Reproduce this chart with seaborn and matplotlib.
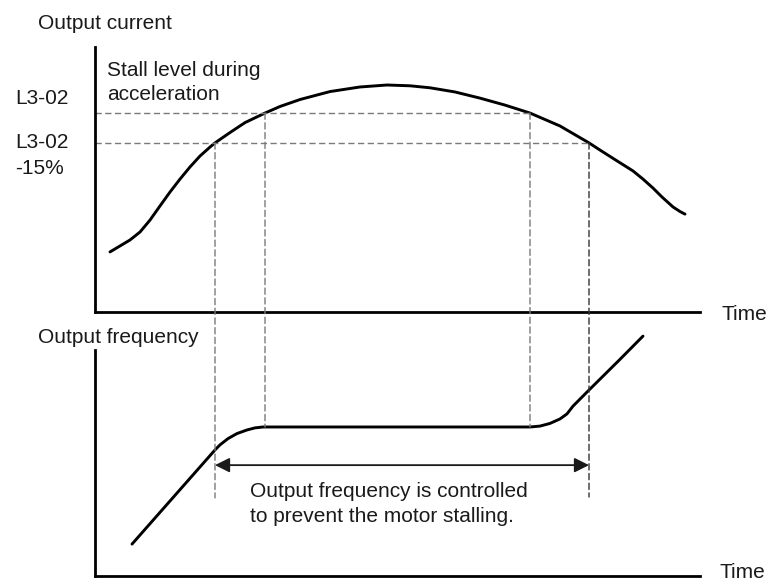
import numpy as np
import pandas as pd
import seaborn as sns
import matplotlib
matplotlib.use("Agg")
import matplotlib.pyplot as plt
from matplotlib.patches import ConnectionPatch

# ---- data -------------------------------------------------------------
# Output current (% of the L3-02 stall level) against time
current_t = [15, 25, 35, 45, 55, 65, 75, 85, 95, 105, 115, 120, 135, 150, 170,
             185, 205, 235, 265, 292, 315, 335, 360, 385, 410, 435, 465, 494,
             505, 520, 538, 548, 558, 567, 578, 585, 590]
current_v = [30.2, 33.2, 36.2, 40.2, 46.2, 53.3, 60.3, 66.8, 72.9, 78.4, 82.9,
             85.0, 90.2, 95.2, 100.0, 103.3, 106.8, 110.8, 113.1, 114.1, 113.7,
             112.7, 110.6, 107.5, 104.0, 100.0, 93.5, 85.0, 81.4, 76.6, 70.9,
             66.8, 62.3, 57.8, 52.8, 50.5, 49.2]

# Output frequency against time
freq_t = [37, 120, 125, 133, 142, 152, 160, 168, 435, 445, 455, 465, 472, 478,
          494, 525, 548]
freq_v = [10.7, 42.3, 44.0, 46.1, 47.8, 49.0, 49.7, 50.0, 50.0, 50.3, 51.2,
          52.7, 54.4, 57.0, 62.4, 72.7, 80.5]

stall_level = 100.0          # L3-02
reduced_level = 85.0         # L3-02 -15%
flat_freq = 50.0
t_rise_low, t_rise_high = 120, 170
t_fall_high, t_fall_low = 435, 494

level_labels = ["L3-02", "L3-02\n-15%"]

# ---- figure -----------------------------------------------------------
sns.set_theme(style="white")
plt.rcParams["font.family"] = ["Liberation Sans", "DejaVu Sans"]

W, H = 767, 582
fig = plt.figure(figsize=(W / 100, H / 100), dpi=100)


def fx(px):
    return px / W


def fy(py):
    return 1 - py / H


ax_i = fig.add_axes([fx(95), fy(312), 605 / W, (312 - 47) / H])
ax_f = fig.add_axes([fx(95), fy(576), 605 / W, (576 - 320) / H])

df_i = pd.DataFrame({"t": current_t, "v": current_v})
df_f = pd.DataFrame({"t": freq_t, "v": freq_v})

line_kw = dict(color="black", lw=2.1, sort=False, estimator=None,
               solid_joinstyle="round", solid_capstyle="round")
sns.lineplot(data=df_i, x="t", y="v", ax=ax_i, **line_kw)
sns.lineplot(data=df_f, x="t", y="v", ax=ax_f, **line_kw)

ax_i.set_xlim(0, 605)
ax_i.set_ylim(0, 133.2)
ax_f.set_xlim(0, 605)
ax_f.set_ylim(0, 85.9)

for ax in (ax_i, ax_f):
    ax.set_xticks([])
    ax.set_yticks([])
    ax.set_xlabel("")
    ax.set_ylabel("")
    ax.patch.set_alpha(0)
    for side in ("top", "right"):
        ax.spines[side].set_visible(False)
    for side in ("left", "bottom"):
        ax.spines[side].set_color("black")
        ax.spines[side].set_linewidth(2.0)
ax_f.spines["left"].set_bounds(0, 75.8)

dash_kw = dict(color="#7a7a7a", lw=1.0, ls=(0, (4.5, 2.5)))

# horizontal guide lines at the two current levels
ax_i.plot([0, t_fall_high], [stall_level, stall_level], **dash_kw)
ax_i.plot([0, t_fall_low], [reduced_level, reduced_level], **dash_kw)

# vertical guides running from the current curve down into the frequency panel
guides = [(t_rise_low, reduced_level, 26.2, "#7a7a7a"),
          (t_rise_high, stall_level, flat_freq, "#7a7a7a"),
          (t_fall_high, stall_level, flat_freq, "#7a7a7a"),
          (t_fall_low, reduced_level, 26.5, "#333333")]
for t, v_top, v_bot, col in guides:
    cp = ConnectionPatch(xyA=(t, v_top), coordsA=ax_i.transData,
                         xyB=(t, v_bot), coordsB=ax_f.transData,
                         color=col, lw=1.0, ls=(0, (4.5, 2.5)))
    fig.add_artist(cp)

# double arrow spanning the controlled interval
ax_f.annotate("", xy=(t_rise_low, 37.2), xytext=(t_fall_low, 37.2),
              arrowprops=dict(arrowstyle="<|-|>", color="#1a1a1a", lw=1.3,
                              mutation_scale=22, shrinkA=0, shrinkB=0))

# ---- text -------------------------------------------------------------
fs = 15
txt = dict(fontsize=fs, color="#1a1a1a", va="baseline", ha="left")
fig.text(fx(38), fy(29), "Output current", **txt)
fig.text(fx(107), fy(76), "Stall level during", **txt)
fig.text(fx(107), fy(100), "acceleration", **txt)
fig.text(fx(15), fy(104), level_labels[0], **txt)
lbl2 = level_labels[1].split("\n")
fig.text(fx(15), fy(148), lbl2[0], **txt)
fig.text(fx(15), fy(174), lbl2[1], **txt)
fig.text(fx(721), fy(320), "Time", **txt)
fig.text(fx(38), fy(343), "Output frequency", **txt)
fig.text(fx(719), fy(578), "Time", **txt)
fig.text(fx(250), fy(497), "Output frequency is controlled", **txt)
fig.text(fx(250), fy(522), "to prevent the motor stalling.", **txt)

fig.savefig("out.png", dpi=100)
